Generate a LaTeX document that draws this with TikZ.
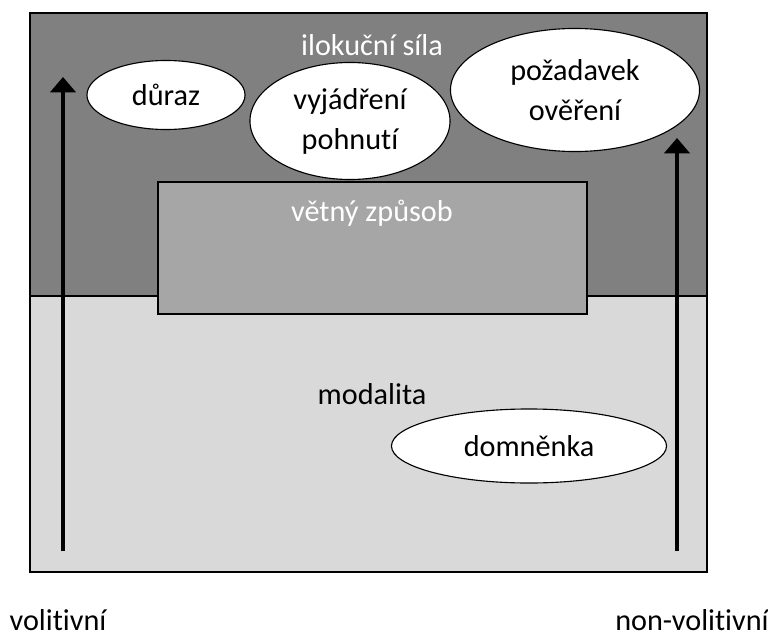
\documentclass[tikz,border=0pt]{standalone}
\usepackage{fontspec}
\setmainfont[RawFeature=-liga]{Carlito}
\usetikzlibrary{shapes.geometric, arrows.meta, positioning}

\begin{document}
\begin{tikzpicture}[x=0.025cm, y=-0.025cm,
		every node/.style={font=\fontsize{21.5}{28.5}\selectfont, align=center},
		bubble/.style={draw, ellipse, fill=white, line width=0.8pt, inner sep=0pt},
		axis/.style={-{Triangle[width=18pt,length=11pt]}, line width=2.8pt}]
			\useasboundingbox (0,0) rectangle (768,637);
			% background fields
			\fill[black!50] (30,13) rectangle (707,296);
			\fill[black!15] (30,296) rectangle (707,572);
			\draw[line width=0.8pt] (30,13) rectangle (707,572);
			\draw[line width=0.8pt] (30,296) -- (707,296);
			\draw[line width=0.8pt, fill=black!35] (158,182) rectangle (587,314);
			\node[text=white] (sila) at (372,45) {ilokuční síla};
			\node[text=white] (zpusob) at (372,213) {větný způsob};
			\node (modalita) at (372,394) {modalita};
			% ellipses
			\node[bubble, minimum width=3.95cm, minimum height=1.725cm] (duraz) at (166,95) {důraz};
			\node[bubble, minimum width=5cm, minimum height=2.925cm] (pohnuti) at (350,121) {vyjádření\\pohnutí};
			\node[bubble, minimum width=6.225cm, minimum height=3.075cm] (overeni) at (575,90) {požadavek\\ověření};
			\node[bubble, minimum width=6.875cm, minimum height=1.85cm] (domnenka) at (529,446) {domněnka};
			% arrows
			\coordinate (volA) at (63,551);
			\coordinate (volB) at (63,77);
			\coordinate (nonA) at (677,551);
			\coordinate (nonB) at (677,138);
			\draw[axis] (volA) -- (volB);
			\draw[axis] (nonA) -- (nonB);
			\node[anchor=base] (vol) at (58,630) {volitivní};
			\node[anchor=base] (nonvol) at (692,630) {non-volitivní};
		\end{tikzpicture}
\end{document}
